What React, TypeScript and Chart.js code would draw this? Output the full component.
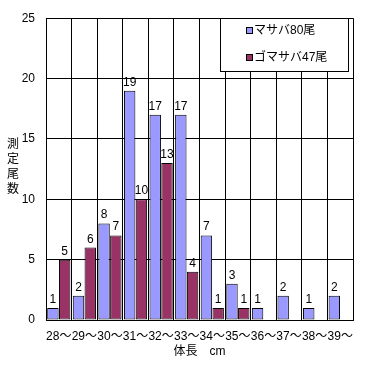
import React, { useEffect, useRef } from "react";
import { Chart, registerables } from "chart.js";

Chart.register(...registerables);

const categories = ["28〜", "29〜", "30〜", "31〜", "32〜", "33〜", "34〜", "35〜", "36〜", "37〜", "38〜", "39〜"];
const masaba = [1, 2, 8, 19, 17, 17, 7, 3, 1, 2, 1, 2];
const gomasaba = [5, 6, 7, 10, 13, 4, 1, 1, null, null, null, null];
const seriesNames = ["マサバ80尾", "ゴマサバ47尾"];
const seriesColors = ["#9999FF", "#993366"];
const yTitle = ["測", "定", "尾", "数"];
const xTitle = "体長　cm";

const FONT = "'Liberation Sans', 'Noto Sans CJK JP', sans-serif";

const labelsPlugin = {
  id: "barLabels",
  afterDatasetsDraw(chart: any) {
    const ctx = chart.ctx;
    ctx.save();
    ctx.fillStyle = "#000";
    ctx.font = `12px ${FONT}`;
    ctx.textAlign = "center";
    ctx.textBaseline = "alphabetic";
    chart.data.datasets.forEach((ds: any, di: number) => {
      const meta = chart.getDatasetMeta(di);
      meta.data.forEach((bar: any, i: number) => {
        const v = ds.data[i];
        if (v === null || v === undefined) return;
        ctx.fillText(String(v), bar.x, bar.y - 5);
      });
    });
    ctx.restore();
  },
};

const decorPlugin = {
  id: "decor",
  afterDraw(chart: any) {
    const ctx = chart.ctx;
    ctx.save();
    // y title stacked
    ctx.fillStyle = "#000";
    ctx.font = `12px ${FONT}`;
    ctx.textAlign = "center";
    ctx.textBaseline = "middle";
    yTitle.forEach((ch, i) => {
      ctx.fillText(ch, 13, 145 + i * 15);
    });
    // legend
    const lx = 220.5, ly = 18.5, lw = 128, lh = 53;
    ctx.fillStyle = "#fff";
    ctx.fillRect(lx, ly, lw, lh);
    ctx.strokeStyle = "#000";
    ctx.lineWidth = 1;
    ctx.strokeRect(lx, ly, lw, lh);
    seriesNames.forEach((name, i) => {
      const cy = 31 + i * 27;
      ctx.fillStyle = seriesColors[i];
      ctx.fillRect(246.5, cy - 3.5, 6, 6);
      ctx.strokeStyle = "#000";
      ctx.strokeRect(246.5, cy - 3.5, 6, 6);
      ctx.fillStyle = "#000";
      ctx.textAlign = "left";
      ctx.textBaseline = "middle";
      ctx.font = `12px ${FONT}`;
      ctx.fillText(name, 254, cy);
    });
    ctx.restore();
  },
};

export default function App() {
  const ref = useRef<HTMLCanvasElement | null>(null);
  useEffect(() => {
    if (!ref.current) return;
    const chart = new Chart(ref.current, {
      type: "bar",
      data: {
        labels: categories,
        datasets: [
          {
            label: seriesNames[0],
            data: masaba,
            backgroundColor: seriesColors[0],
            borderColor: "#000",
            borderWidth: 1,
            borderSkipped: false,
          },
          {
            label: seriesNames[1],
            data: gomasaba as any,
            backgroundColor: seriesColors[1],
            borderColor: "#000",
            borderWidth: 1,
            borderSkipped: false,
          },
        ],
      },
      options: {
        responsive: false,
        animation: false,
        devicePixelRatio: 1,
        categoryPercentage: 0.92,
        barPercentage: 0.97,
        layout: { padding: { top: 15, right: 18, left: 0, bottom: 0 } },
        plugins: {
          legend: { display: false },
          tooltip: { enabled: false },
        },
        scales: {
          x: {
            grid: { color: "#000", drawTicks: false, offset: true },
            border: { color: "#000" },
            ticks: {
              color: "#000",
              font: { family: FONT, size: 12 },
              padding: 9,
              autoSkip: false,
              maxRotation: 0,
              minRotation: 0,
            },
            title: {
              display: true,
              text: xTitle,
              color: "#000",
              font: { family: FONT, size: 12 },
              padding: { top: 0, bottom: 6 },
            },
            afterFit: (s: any) => {
              s.height = 45;
            },
          },
          y: {
            min: 0,
            max: 25,
            grid: { color: "#000", drawTicks: false },
            border: { color: "#000" },
            ticks: {
              stepSize: 5,
              color: "#000",
              font: { family: FONT, size: 12 },
              padding: 11,
            },
            afterFit: (s: any) => {
              s.width = 46;
            },
          },
        },
      } as any,
      plugins: [labelsPlugin, decorPlugin],
    });
    return () => chart.destroy();
  }, []);
  return (
    <div style={{ position: "absolute", left: 0, top: 0, width: 371, height: 365, background: "#fff" }}>
      <canvas ref={ref} width={371} height={365} style={{ width: 371, height: 365 }} />
    </div>
  );
}
